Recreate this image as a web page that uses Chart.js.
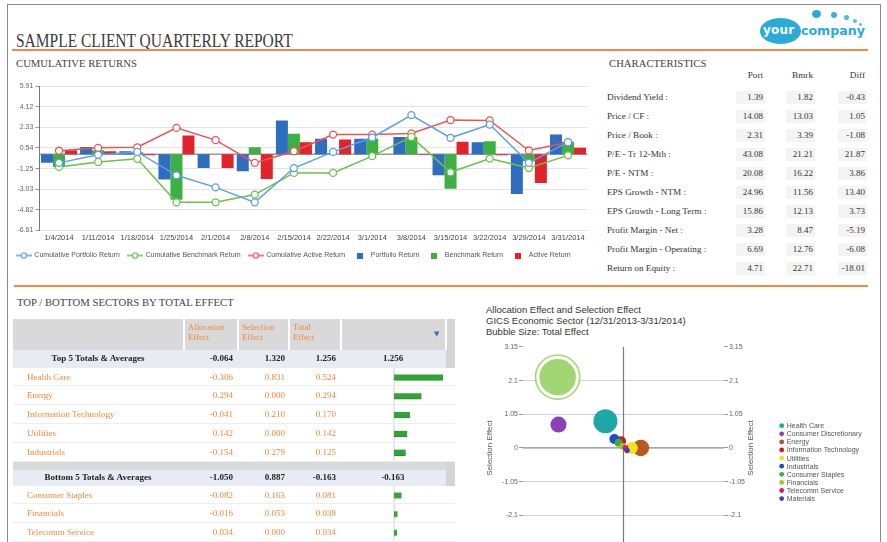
<!DOCTYPE html>
<html>
<head>
<meta charset="utf-8">
<script src="https://cdn.jsdelivr.net/npm/chart.js@4.4.1/dist/chart.umd.min.js"></script>
<style>
html,body{margin:0;padding:0;}
body{width:887px;height:542px;overflow:hidden;background:#fff;position:relative;font-family:"Liberation Serif","Times New Roman",serif;color:#333;}
.abs{position:absolute;}
#frame{left:7px;top:4px;width:872px;height:600px;border:1px solid #8a8a8a;}
.title{left:16px;top:31px;font-size:19px;line-height:1;color:#3a3a3a;white-space:nowrap;transform:scaleX(0.815);transform-origin:0 0;}
.orange{height:2px;background:#EF8A4C;}
.h2{font-size:10.7px;line-height:1;color:#444;white-space:nowrap;}
.ch{font-size:9.2px;height:19px;line-height:19px;white-space:nowrap;color:#333;}
.chv{font-size:9px;height:13px;line-height:13px;margin-top:3px;text-align:right;white-space:nowrap;background:#f4f4f4;padding-right:2px;box-sizing:border-box;color:#333;}
.cell{font-size:9px;white-space:nowrap;}
.org{color:#EE8A3C;}
.bold{font-weight:bold;color:#222;}
.r{text-align:right;}
.btitle{font-family:"Liberation Sans",Arial,sans-serif;font-size:9.5px;line-height:11px;color:#333;white-space:nowrap;}
canvas{position:absolute;}
</style>
</head>
<body>
<div id="frame" class="abs"></div>
<div class="abs title">SAMPLE CLIENT QUARTERLY REPORT</div>

<!-- logo -->
<div class="abs" style="left:760px;top:18px;width:41px;height:26px;border-radius:50%;background:#2AAAD8;"></div>
<div class="abs" style="left:763px;top:24px;font-family:'DejaVu Sans',sans-serif;font-weight:bold;font-size:12px;line-height:1;color:#fff;letter-spacing:0.2px;">your</div>
<div class="abs" style="left:801px;top:25px;font-family:'DejaVu Sans',sans-serif;font-weight:bold;font-size:12.6px;line-height:1;color:#2AAAD8;">company</div>
<div class="abs" style="left:812px;top:10px;width:9px;height:8px;border-radius:50%;background:#2AAAD8;"></div>
<div class="abs" style="left:831px;top:12px;width:6px;height:6px;border-radius:50%;background:#3BB2DC;"></div>
<div class="abs" style="left:844px;top:15px;width:4.5px;height:4.5px;border-radius:50%;background:#4DBAE0;"></div>
<div class="abs" style="left:853px;top:19px;width:3.5px;height:3.5px;border-radius:50%;background:#5CC0E2;"></div>
<div class="abs" style="left:859px;top:23px;width:2.5px;height:2.5px;border-radius:50%;background:#6CC6E5;"></div>

<div class="abs orange" style="left:12px;top:49px;width:856px;"></div>
<div class="abs orange" style="left:14px;top:285px;width:854px;"></div>

<div class="abs h2" style="left:16px;top:58px;">CUMULATIVE RETURNS</div>
<div class="abs h2" style="left:609px;top:58px;">CHARACTERISTICS</div>
<div class="abs h2" style="left:17px;top:297px;">TOP / BOTTOM SECTORS BY TOTAL EFFECT</div>

<canvas id="mainChart" style="left:0px;top:76px;width:605px;height:193px;" width="605" height="193"></canvas>

<div class="abs btitle" style="left:486px;top:304px;">Allocation Effect and Selection Effect</div>
<div class="abs btitle" style="left:486px;top:315px;">GICS Economic Sector (12/31/2013-3/31/2014)</div>
<div class="abs btitle" style="left:486px;top:326px;">Bubble Size: Total Effect</div>
<canvas id="bubbleChart" style="left:480px;top:323px;width:400px;height:250px;" width="400" height="250"></canvas>

<canvas id="topBars" style="left:340px;top:367.5px;width:106px;height:94.5px;" width="106" height="94.5"></canvas>
<canvas id="bottomBars" style="left:340px;top:485.5px;width:106px;height:56.7px;" width="106" height="57"></canvas>

<script>
// ---------------- DATA ----------------
const dates = ['1/4/2014','1/11/2014','1/18/2014','1/25/2014','2/1/2014','2/8/2014','2/15/2014','2/22/2014','3/1/2014','3/8/2014','3/15/2014','3/22/2014','3/29/2014','3/31/2014'];
const yTickLabels = ['5.91','4.12','2.33','0.54','-1.25','-3.03','-4.82','-6.61'];
const cumPortfolio = [-0.75, -0.05, 0.20, -1.83, -2.87, -4.17, -1.20, 0.20, 1.45, 3.39, 1.42, 2.57, -0.75, 1.04];
const cumBenchmark = [-1.10, -0.67, -0.40, -4.17, -4.17, -3.50, -1.62, -1.62, -0.17, 1.50, -1.57, -0.38, -1.19, -0.10];
const cumActive = [0.30, 0.55, 0.60, 2.28, 1.22, -0.75, 0.26, 1.70, 1.70, 1.80, 2.96, 2.93, 0.32, 1.04];
const portfolioReturn = [-0.75, 0.63, 0.26, -2.20, -1.19, -1.48, 2.93, 1.33, 1.33, 1.50, -1.83, 1.04, -3.45, 1.70];
const benchmarkReturn = [-1.10, 0.35, 0.17, -3.95, 0.00, 0.60, 1.77, 0.00, 1.33, 1.50, -3.00, 1.13, -0.60, 1.07];
const activeReturn = [0.35, 0.25, -0.10, 1.62, -1.19, -2.14, 1.04, 1.27, 0.00, -0.05, 1.07, -0.10, -2.50, 0.55];

const charHeaders = ['Port','Bmrk','Diff'];
const charLabels = ['Dividend Yield :','Price / CF :','Price / Book :','P/E - Tr 12-Mth :','P/E - NTM :','EPS Growth - NTM :','EPS Growth - Long Term :','Profit Margin - Net :','Profit Margin - Operating :','Return on Equity :'];
const charPort = ['1.39','14.08','2.31','43.08','20.08','24.96','15.86','3.28','6.69','4.71'];
const charBmrk = ['1.82','13.03','3.39','21.21','16.22','11.56','12.13','8.47','12.76','22.71'];
const charDiff = ['-0.43','1.05','-1.08','21.87','3.86','13.40','3.73','-5.19','-6.08','-18.01'];

const tableHeaders = [['Allocation','Effect'],['Selection','Effect'],['Total','Effect']];
const topLabel = 'Top 5 Totals & Averages';
const topTotals = [-0.064, 1.320, 1.256, 1.256];
const topSectors = ['Health Care','Energy','Information Technology','Utilities','Industrials'];
const topAlloc = [-0.306, 0.294, -0.041, 0.142, -0.154];
const topSel = [0.831, 0.000, 0.210, 0.000, 0.279];
const topTotal = [0.524, 0.294, 0.170, 0.142, 0.125];
const bottomLabel = 'Bottom 5 Totals & Averages';
const bottomTotals = [-1.050, 0.887, -0.163, -0.163];
const bottomSectors = ['Consumer Staples','Financials','Telecomm Service'];
const bottomAlloc = [-0.082, -0.016, 0.034];
const bottomSel = [0.163, 0.053, 0.000];
const bottomTotal = [0.081, 0.038, 0.034];

const bubbleSectors = ['Health Care','Consumer Discretionary','Energy','Information Technology','Utilities','Industrials','Consumer Staples','Financials','Telecomm Service','Materials'];
const bubbleAlloc = [-0.306, -1.10, 0.294, -0.041, 0.142, -0.154, -0.082, -0.016, 0.034, 0.06];
const bubbleSel = [0.831, 0.73, 0.000, 0.210, 0.000, 0.279, 0.163, 0.053, 0.000, -0.08];
const bubbleSize = [0.48, 0.32, 0.33, 0.20, 0.24, 0.20, 0.16, 0.13, 0.12, 0.11];
const bubbleColors = ['#1FA7A8','#8A42B8','#B8581E','#CC1B24','#F3E417','#1E4EC6','#3DAE3D','#A9BE22','#D21C66','#4040B8'];
const totalAlloc = [-1.114];
const totalSel = [2.207];
const totalSize = [0.78];
const bubbleYTicks = ['3.15','2.1','1.05','0','-1.05','-2.1'];

// ---------------- HELPERS ----------------
Chart.defaults.font.family = '"Liberation Sans", Arial, sans-serif';
Chart.defaults.animation = false;
function addDiv(cls, style, text){
  const d = document.createElement('div');
  d.className = 'abs ' + cls;
  Object.assign(d.style, style);
  if (text !== undefined) d.textContent = text;
  document.body.appendChild(d);
  return d;
}
const px = v => v + 'px';

// ---------------- CHARACTERISTICS TABLE ----------------
const charRight = [763, 813, 865];
charHeaders.forEach((h,i)=>{
  addDiv('ch r', {left:px(charRight[i]-40), top:px(66), width:px(40)}, h);
});
charLabels.forEach((lab,i)=>{
  const top = 88.2 + i*18.96;
  addDiv('ch', {left:px(607), top:px(top)}, lab);
  [charPort, charBmrk, charDiff].forEach((arr,j)=>{
    addDiv('chv', {left:px(charRight[j]-27), top:px(top), width:px(29)}, arr[i]);
  });
});

// ---------------- SECTOR TABLE ----------------
const colRight = [233, 285, 336];
addDiv('', {left:px(13), top:px(319), width:px(433), height:px(31), background:'#D9D9D9'});
addDiv('', {left:px(446), top:px(319), width:px(9), height:px(48.5), background:'#D4D4D4'});
[183, 237, 288, 340, 445].forEach(x=>addDiv('', {left:px(x), top:px(319), width:px(1.5), height:px(31), background:'#fff'}));
const headLeft = [188, 242, 293];
tableHeaders.forEach((h,i)=>{
  addDiv('cell org', {left:px(headLeft[i]), top:px(322), lineHeight:'10px', fontSize:'8.7px'}, h[0]);
  addDiv('cell org', {left:px(headLeft[i]), top:px(332), lineHeight:'10px', fontSize:'8.7px'}, h[1]);
});
addDiv('cell', {left:px(434), top:px(330), color:'#3A6EC0', fontSize:'7px', fontFamily:'"DejaVu Sans",sans-serif'}, '\u25BC');

function totalsRow(y, h, label, vals){
  addDiv('', {left:px(13), top:px(y), width:px(433), height:px(h), background:'#E7ECF4'});
  addDiv('cell bold', {left:px(13), top:px(y), width:px(170), height:px(h), lineHeight:px(h), textAlign:'center'}, label);
  vals.slice(0,3).forEach((v,i)=>addDiv('cell bold r', {left:px(colRight[i]-50), top:px(y), width:px(50), height:px(h), lineHeight:px(h)}, v.toFixed(3)));
  addDiv('cell bold', {left:px(340), top:px(y), width:px(106), height:px(h), lineHeight:px(h), textAlign:'center'}, vals[3].toFixed(3));
}
function dataRows(y0, rh, names, a, s, t){
  names.forEach((n,i)=>{
    const y = y0 + i*rh;
    addDiv('', {left:px(13), top:px(y+rh-1), width:px(442), height:px(1), background:'#EDEDED'});
    addDiv('cell org', {left:px(27), top:px(y), height:px(rh), lineHeight:px(rh)}, n);
    [a[i], s[i], t[i]].forEach((v,j)=>addDiv('cell org r', {left:px(colRight[j]-50), top:px(y), width:px(50), height:px(rh), lineHeight:px(rh)}, v.toFixed(3)));
  });
}
totalsRow(350, 17.5, topLabel, topTotals);
dataRows(367.5, 18.9, topSectors, topAlloc, topSel, topTotal);
addDiv('', {left:px(13), top:px(462), width:px(433), height:px(8), background:'#DADADA'});
addDiv('', {left:px(446), top:px(462), width:px(9), height:px(23.5), background:'#D4D4D4'});
totalsRow(470, 15.5, bottomLabel, bottomTotals);
dataRows(485.5, 18.9, bottomSectors, bottomAlloc, bottomSel, bottomTotal);

// ---------------- MAIN CHART ----------------
function lineSymbol(color){
  const c = document.createElement('canvas'); c.width = 16; c.height = 8;
  const g = c.getContext('2d');
  g.strokeStyle = color; g.lineWidth = 1.5;
  g.beginPath(); g.moveTo(0,4); g.lineTo(16,4); g.stroke();
  g.fillStyle = '#fff'; g.lineWidth = 1.2;
  g.beginPath(); g.arc(8,4,2.6,0,Math.PI*2); g.fill(); g.stroke();
  return c;
}
function boxSymbol(color){
  const c = document.createElement('canvas'); c.width = 6; c.height = 6;
  const g = c.getContext('2d'); g.fillStyle = color; g.fillRect(0,0,6,6);
  return c;
}
const cBlueL = '#5DA0E0', cGreenL = '#6DC04B', cRedL = '#EF5454';
const cBlue = '#2F6DBF', cGreen = '#3CB043', cRed = '#E2232B';
const symbols = [lineSymbol(cBlueL), lineSymbol(cGreenL), lineSymbol(cRedL), boxSymbol(cBlue), boxSymbol(cGreen), boxSymbol(cRed)];

const zeroLineMain = {
  id:'zeroLineMain',
  beforeDatasetsDraw(chart){
    const {ctx, chartArea:a, scales:{y}} = chart;
    const yy = y.getPixelForValue(0);
    ctx.save(); ctx.strokeStyle = '#9a9a9a'; ctx.lineWidth = 1.6;
    ctx.beginPath(); ctx.moveTo(a.left, yy); ctx.lineTo(a.right, yy); ctx.stroke(); ctx.restore();
  }
};
function lineDs(label, data, color){
  return {type:'line', label, data, borderColor:color, backgroundColor:color, borderWidth:1.5,
    pointRadius:3.5, pointBorderWidth:1.3, pointBackgroundColor:'#fff', pointBorderColor:color, tension:0, order:0};
}
function barDs(label, data, color){
  return {type:'bar', label, data, backgroundColor:color, borderWidth:0, categoryPercentage:0.92, barPercentage:1.0, order:1};
}
new Chart(document.getElementById('mainChart'), {
  type:'bar',
  data:{
    labels: dates,
    datasets:[
      lineDs('Cumulative Portfolio Return', cumPortfolio, cBlueL),
      lineDs('Cumulative Benchmark Return', cumBenchmark, cGreenL),
      lineDs('Cumulative Active Return', cumActive, cRedL),
      barDs('Portfolio Return', portfolioReturn, cBlue),
      barDs('Benchmark Return', benchmarkReturn, cGreen),
      barDs('Active Return', activeReturn, cRed)
    ]
  },
  options:{
    responsive:false, animation:false,
    layout:{padding:{top:10, right:17.4, left:0, bottom:0}},
    plugins:{
      tooltip:{enabled:false},
      legend:{position:'bottom', labels:{
        usePointStyle:true, pointStyleWidth:14, boxHeight:7, padding:8, color:'#555', font:{size:7},
        generateLabels(chart){
          const items = Chart.defaults.plugins.legend.labels.generateLabels(chart);
          items.forEach(it=>{ it.pointStyle = symbols[it.datasetIndex]; });
          return items;
        }
      }}
    },
    scales:{
      x:{grid:{display:false, drawTicks:false}, border:{display:false},
         ticks:{font:{size:7.5}, color:'#444', maxRotation:0, autoSkip:false, padding:3},
         afterFit(s){ s.height = 13.5; }},
      y:{min:-6.61, max:5.91,
         afterBuildTicks(s){ s.ticks = yTickLabels.map(t=>({value:parseFloat(t)})); },
         ticks:{font:{size:7}, color:'#666', padding:2,
           callback(v){ const f = yTickLabels.find(t=>Math.abs(parseFloat(t)-v)<1e-6); return f === undefined ? '' : f; }},
         grid:{color:'#e4e4e4', tickColor:'#999', tickLength:4},
         border:{color:'#777', width:1},
         afterFit(s){ s.width = 39.4; }}
    }
  },
  plugins:[zeroLineMain]
});

// ---------------- SECTOR EFFECT BARS ----------------
const zeroLineV = {
  id:'zeroLineV',
  beforeDatasetsDraw(chart){
    const {ctx, scales:{x}} = chart;
    const xx = x.getPixelForValue(0);
    ctx.save(); ctx.strokeStyle = '#cfcfcf'; ctx.lineWidth = 1;
    ctx.beginPath(); ctx.moveTo(xx, 0); ctx.lineTo(xx, chart.height); ctx.stroke(); ctx.restore();
  }
};
function effectBars(id, labels, values){
  new Chart(document.getElementById(id), {
    type:'bar',
    data:{labels, datasets:[{data:values, backgroundColor:'#33A23A', borderColor:'#2A8C30', borderWidth:{top:0,bottom:1,left:0,right:0}, barThickness:6}]},
    options:{indexAxis:'y', responsive:false, animation:false,
      layout:{padding:0},
      plugins:{legend:{display:false}, tooltip:{enabled:false}},
      scales:{x:{min:-0.578, max:0.556, display:false}, y:{display:false}}},
    plugins:[zeroLineV]
  });
}
effectBars('topBars', topSectors, topTotal);
effectBars('bottomBars', bottomSectors, bottomTotal);

// ---------------- BUBBLE CHART ----------------
const bubbleExtras = {
  id:'bubbleExtras',
  beforeDatasetsDraw(chart){
    const {ctx, chartArea:a, scales:{x, y}} = chart;
    const x0 = x.getPixelForValue(0), y0 = y.getPixelForValue(0);
    ctx.save();
    ctx.strokeStyle = '#8a8a8a'; ctx.lineWidth = 1.2;
    ctx.beginPath(); ctx.moveTo(a.left, y0); ctx.lineTo(a.right, y0); ctx.stroke();
    ctx.strokeStyle = '#7a7a7a';
    ctx.beginPath(); ctx.moveTo(x0, a.top); ctx.lineTo(x0, a.bottom); ctx.stroke();
    ctx.restore();
  },
  afterDraw(chart){
    const {ctx, chartArea:a} = chart;
    ctx.save();
    ctx.font = '8px "Liberation Sans", Arial, sans-serif';
    ctx.fillStyle = '#555'; ctx.textAlign = 'center'; ctx.textBaseline = 'middle';
    ctx.translate(a.right + 27, (a.top + a.bottom)/2);
    ctx.rotate(-Math.PI/2);
    ctx.fillText('Selection Effect', 0, 0);
    ctx.restore();
    ctx.save();
    ctx.font = '7px "Liberation Sans", Arial, sans-serif';
    ctx.textBaseline = 'middle'; ctx.textAlign = 'left';
    bubbleSectors.forEach((s,i)=>{
      const yy = a.top + 78.8 + i*8.1, xx = a.right + 57.7;
      ctx.fillStyle = bubbleColors[i];
      ctx.beginPath(); ctx.arc(xx, yy, 2.4, 0, Math.PI*2); ctx.fill();
      ctx.fillStyle = '#555';
      ctx.fillText(s, xx + 5, yy + 0.5);
    });
    ctx.restore();
  }
};
const yTickCb = v => { const f = bubbleYTicks.find(t=>Math.abs(parseFloat(t)-v)<1e-6); return f === undefined ? '' : f; };
const yTickBuild = s => { s.ticks = bubbleYTicks.map(t=>({value:parseFloat(t)})); };
new Chart(document.getElementById('bubbleChart'), {
  type:'bubble',
  data:{datasets:[
    {label:'Total', data: totalAlloc.map((v,i)=>({x:v, y:totalSel[i], r:totalSize[i]*25})), backgroundColor:'#A2D674', borderColor:'#ffffff', borderWidth:2.5},
    {label:'Total ring', data: totalAlloc.map((v,i)=>({x:v, y:totalSel[i], r:totalSize[i]*25+2.6})), backgroundColor:'rgba(0,0,0,0)', borderColor:'#A2D674', borderWidth:1.6},
    {label:'Sectors', data: bubbleSectors.map((s,i)=>({x:bubbleAlloc[i], y:bubbleSel[i], r:bubbleSize[i]*25})), backgroundColor:bubbleColors, borderWidth:0}
  ]},
  options:{
    responsive:false, animation:false,
    layout:{padding:{top:23.9, right:120, left:0, bottom:24}},
    plugins:{legend:{display:false}, tooltip:{enabled:false}},
    scales:{
      x:{type:'linear', min:-1.7, max:1.7, display:false},
      y:{min:-3.15, max:3.15, position:'left',
         afterBuildTicks: yTickBuild,
         ticks:{callback:yTickCb, font:{size:7}, color:'#666', padding:1},
         grid:{color:c=> (Math.abs(c.tick.value-3.15)<1e-6 || Math.abs(c.tick.value)<1e-6) ? 'rgba(0,0,0,0)' : '#d2d2d2', tickColor:'#999', tickLength:4},
         border:{display:false},
         title:{display:true, text:'Selection Effect', color:'#555', font:{size:8}, padding:{top:5,bottom:0}},
         afterFit(s){ s.width = 43; }},
      y2:{min:-3.15, max:3.15, position:'right',
         afterBuildTicks: yTickBuild,
         ticks:{callback:yTickCb, font:{size:7}, color:'#666', padding:1},
         grid:{drawOnChartArea:false, tickColor:'#999', tickLength:4},
         border:{display:false},
         afterFit(s){ s.width = 36; }}
    }
  },
  plugins:[bubbleExtras]
});
</script>
</body>
</html>
